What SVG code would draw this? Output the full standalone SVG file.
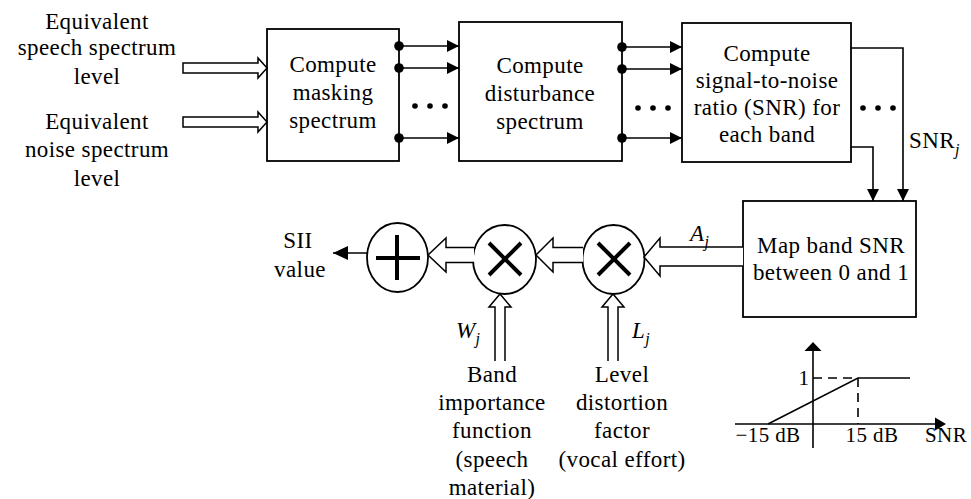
<svg xmlns="http://www.w3.org/2000/svg" width="971" height="499" viewBox="0 0 971 499">
<defs>
<style>
.t{font-family:"Liberation Serif","Times New Roman",serif;font-size:23px;fill:#000;letter-spacing:0.4px}
.g{font-size:21px}
.c{text-anchor:middle}
.i{font-style:italic}
.sub{font-size:16px;font-style:italic}
.box{fill:#fff;stroke:#000;stroke-width:1.8}
.ln{fill:none;stroke:#000;stroke-width:1.6}
.hol{fill:#fff;stroke:#000;stroke-width:1.5;stroke-linejoin:miter}
.dash{fill:none;stroke:#000;stroke-width:1.6;stroke-dasharray:9 6}
.op{fill:none;stroke:#000;stroke-width:4}
</style>
<marker id="ah" viewBox="0 0 12 12" refX="12" refY="6" markerWidth="12" markerHeight="12" markerUnits="userSpaceOnUse" orient="auto">
<path d="M0,0 L12,6 L0,12 Z" fill="#000"/>
</marker>
<marker id="ahb" viewBox="0 0 15 14" refX="15" refY="7" markerWidth="15" markerHeight="14" markerUnits="userSpaceOnUse" orient="auto">
<path d="M0,0 L15,7 L0,14 Z" fill="#000"/>
</marker>
</defs>

<g id="input-speech">
<text class="t c" x="97" y="29">Equivalent</text>
<text class="t c" x="97" y="55">speech spectrum</text>
<text class="t c" x="97" y="84">level</text>
</g>
<g id="input-noise">
<text class="t c" x="97" y="129">Equivalent</text>
<text class="t c" x="97" y="157">noise spectrum</text>
<text class="t c" x="97" y="186">level</text>
</g>

<g id="masking">
<rect class="box" x="267" y="29" width="132" height="132"/>
<text class="t c" x="333" y="72">Compute</text>
<text class="t c" x="333" y="100">masking</text>
<text class="t c" x="333" y="128">spectrum</text>
</g>

<g id="disturbance">
<rect class="box" x="459" y="22" width="163" height="139"/>
<text class="t c" x="540" y="73">Compute</text>
<text class="t c" x="540" y="101">disturbance</text>
<text class="t c" x="540" y="129">spectrum</text>
</g>

<g id="snr">
<rect class="box" x="682" y="23" width="169" height="139"/>
<text class="t c" x="767" y="61">Compute</text>
<text class="t c" x="767" y="88">signal-to-noise</text>
<text class="t c" x="767" y="115">ratio (SNR) for</text>
<text class="t c" x="767" y="142">each band</text>
</g>

<g id="map">
<rect class="box" x="743" y="201" width="173" height="116"/>
<text class="t c" x="831" y="253">Map band SNR</text>
<text class="t c" x="831" y="280">between 0 and 1</text>
</g>

<g id="sum">
<ellipse class="box" cx="397.5" cy="257.5" rx="30.5" ry="34.5"/>
<path class="op" d="M376,258 H420 M397,235 V280"/>
</g>

<g id="mult-w">
<ellipse class="box" cx="504.5" cy="259.5" rx="31.5" ry="34.5"/>
<path class="op" d="M489,243 L521,275 M521,243 L489,275"/>
</g>

<g id="mult-l">
<ellipse class="box" cx="613.5" cy="259.5" rx="31" ry="34.5"/>
<path class="op" d="M598,243 L630,275 M630,243 L598,275"/>
</g>

<g id="sii">
<text class="t c" x="298" y="248">SII</text>
<text class="t c" x="300" y="277">value</text>
</g>

<g id="band-importance">
<text class="t c" x="492" y="382">Band</text>
<text class="t c" x="492" y="410">importance</text>
<text class="t c" x="492" y="438">function</text>
<text class="t c" x="492" y="467">(speech</text>
<text class="t c" x="492" y="495">material)</text>
</g>

<g id="level-distortion">
<text class="t c" x="622" y="382">Level</text>
<text class="t c" x="622" y="410">distortion</text>
<text class="t c" x="622" y="438">factor</text>
<text class="t c" x="622" y="467">(vocal effort)</text>
</g>

<g id="graph">
<line class="ln" x1="813" y1="448" x2="813" y2="350"/>
<path d="M813,342 L821.5,351 L804.5,351 Z" fill="#000"/>
<line class="ln" x1="735" y1="424" x2="936" y2="424"/>
<path d="M946,424 L935,417.5 L935,430.5 Z" fill="#000"/>
<path class="ln" d="M768,424 L858,378 H910"/>
<line class="dash" x1="813" y1="378" x2="858" y2="378"/>
<line class="dash" x1="858" y1="378" x2="858" y2="424"/>
<text class="t g c" x="804" y="385">1</text>
<text class="t g c" x="768" y="442">−15 dB</text>
<text class="t g c" x="872" y="442">15 dB</text>
<text class="t g" x="925" y="442">SNR</text>
</g>

<g id="connectors">
<path class="hol" d="M183,63 H258 V58 L267,68 L258,78 V73 H183 Z"/>
<path class="hol" d="M183,117 H258 V112 L267,122 L258,132 V127 H183 Z"/>

<line class="ln" x1="399" y1="46" x2="459" y2="46" marker-end="url(#ah)"/>
<line class="ln" x1="399" y1="68" x2="459" y2="68" marker-end="url(#ah)"/>
<line class="ln" x1="399" y1="138" x2="459" y2="138" marker-end="url(#ah)"/>
<circle cx="399" cy="46" r="4.8"/>
<circle cx="399" cy="68" r="4.8"/>
<circle cx="399" cy="138" r="4.8"/>
<circle cx="415" cy="106" r="2.8"/>
<circle cx="430" cy="106" r="2.8"/>
<circle cx="445" cy="106" r="2.8"/>

<line class="ln" x1="622" y1="47" x2="682" y2="47" marker-end="url(#ah)"/>
<line class="ln" x1="622" y1="69" x2="682" y2="69" marker-end="url(#ah)"/>
<line class="ln" x1="622" y1="138" x2="682" y2="138" marker-end="url(#ah)"/>
<circle cx="622" cy="47" r="4.8"/>
<circle cx="622" cy="69" r="4.8"/>
<circle cx="622" cy="138" r="4.8"/>
<circle cx="638" cy="108" r="2.8"/>
<circle cx="653" cy="108" r="2.8"/>
<circle cx="668" cy="108" r="2.8"/>

<circle cx="863" cy="108" r="2.8"/>
<circle cx="878" cy="108" r="2.8"/>
<circle cx="893" cy="108" r="2.8"/>

<path class="ln" d="M851,48 H903 V201" marker-end="url(#ah)"/>
<path class="ln" d="M851,147 H873 V201" marker-end="url(#ah)"/>
<text class="t" x="909" y="148">SNR<tspan class="sub" dy="7">j</tspan></text>

<path class="hol" d="M743,247 H660 V238 L644,257 L660,276 V266 H743"/>
<text class="t i" x="690" y="241">A<tspan class="sub" dy="6">j</tspan></text>
<path class="hol" d="M583,247.5 H553 V238 L536,255 L553,272 V262.5 H583"/>
<path class="hol" d="M474,247.5 H446 V238 L428,255 L446,272 V262.5 H474"/>

<line class="ln" x1="367" y1="253" x2="333" y2="253" marker-end="url(#ahb)"/>

<path class="hol" d="M495,361 V307 H489 L500,294 L511,307 H505 V361"/>
<path class="hol" d="M608,361 V307 H602 L613,294 L624,307 H618 V361"/>
<text class="t i" x="456" y="338">W<tspan class="sub" dy="6">j</tspan></text>
<text class="t i" x="632" y="338">L<tspan class="sub" dy="6">j</tspan></text>
</g>
</svg>
